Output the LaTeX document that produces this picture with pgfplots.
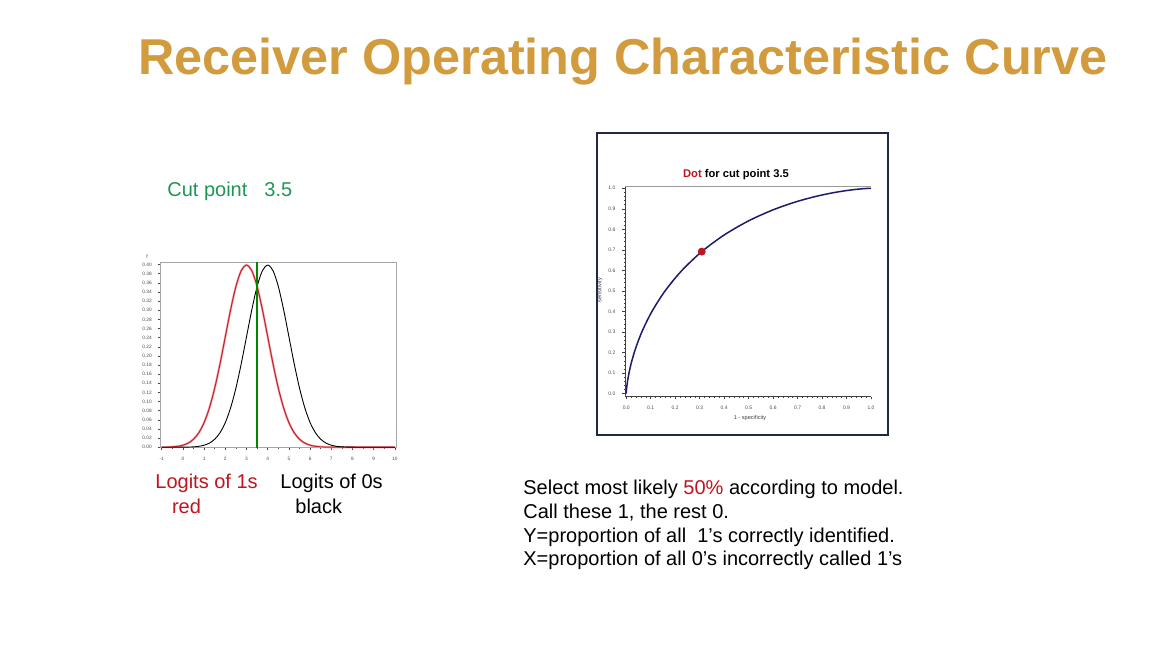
\documentclass[border=0pt]{standalone}
\usepackage{fontspec}
\setmainfont{Liberation Sans}
\usepackage{pgfplots}
\pgfplotsset{compat=1.18}

\definecolor{titlegold}{RGB}{210,155,62}
\definecolor{cutgreen}{RGB}{30,150,85}
\definecolor{txtred}{RGB}{192,20,30}
\definecolor{curvered}{RGB}{200,30,40}
\definecolor{curvepink}{RGB}{240,170,175}
\definecolor{cutline}{RGB}{0,135,0}
\definecolor{boxnavy}{RGB}{30,42,68}
\definecolor{rocnavy}{RGB}{28,28,107}

\begin{document}
\begin{tikzpicture}
% page: 1152 x 648 px at 0.5pt per px
\path[fill=white] (0,0) rectangle (576pt,-324pt);

\node[anchor=base, inner sep=0, text=titlegold,
      font=\fontsize{25.2}{30}\selectfont\bfseries] at (311.5pt,-37pt)
  {Receiver Operating Characteristic Curve};

\node[anchor=base west, inner sep=0, text=cutgreen, font=\fontsize{10}{12}\selectfont]
  at (83.5pt,-98pt) {Cut point\hspace{8.5pt}3.5};

% left: the two logit densities
\begin{axis}[
  at={(80pt,-223.85pt)}, anchor=south west,
  scale only axis, width=118pt, height=92.7pt,
  xmin=-1.08, xmax=10.05, ymin=-0.001, ymax=0.405,
  axis line style={gray!70, line width=0.3pt},
  xtick={-1,0,...,10}, minor x tick num=1,
  ytick={0,0.02,0.04,0.06,0.08,0.10,0.12,0.14,0.16,0.18,0.20,0.22,0.24,0.26,0.28,0.30,0.32,0.34,0.36,0.38,0.40},
  tick align=outside, xtick pos=bottom, ytick pos=left,
  major tick length=1.2pt, minor tick length=0.7pt,
  tick style={black!70, line width=0.25pt},
  /pgf/number format/assume math mode=true,
  yticklabel style={font=\fontsize{2.4}{2.7}\selectfont, text=black!70,
    /pgf/number format/fixed, /pgf/number format/fixed zerofill,
    /pgf/number format/precision=2, xshift=0.6pt},
  xticklabel style={font=\fontsize{2.4}{2.7}\selectfont, text=black!70},
  clip=false,
]
\addplot[draw=curvepink, line width=1.1pt, smooth] coordinates {
  (-1,0.00013) (-0.75,0.00035) (-0.5,0.00087) (-0.25,0.00203) (0,0.00443)
  (0.25,0.00909) (0.5,0.01753) (0.75,0.03174) (1,0.05399) (1.25,0.08628)
  (1.5,0.12952) (1.75,0.18265) (2,0.24197) (2.25,0.30114) (2.5,0.35207)
  (2.75,0.38667) (3,0.39894) (3.25,0.38667) (3.5,0.35207) (3.75,0.30114)
  (4,0.24197) (4.25,0.18265) (4.5,0.12952) (4.75,0.08628) (5,0.05399)
  (5.25,0.03174) (5.5,0.01753) (5.75,0.00909) (6,0.00443) (6.25,0.00203)
  (6.5,0.00087) (6.75,0.00035) (7,0.00013) (7.5,0.00002) (8,0) (10,0)
};
\addplot[draw=curvered, line width=0.5pt, smooth] coordinates {
  (-1,0.00013) (-0.75,0.00035) (-0.5,0.00087) (-0.25,0.00203) (0,0.00443)
  (0.25,0.00909) (0.5,0.01753) (0.75,0.03174) (1,0.05399) (1.25,0.08628)
  (1.5,0.12952) (1.75,0.18265) (2,0.24197) (2.25,0.30114) (2.5,0.35207)
  (2.75,0.38667) (3,0.39894) (3.25,0.38667) (3.5,0.35207) (3.75,0.30114)
  (4,0.24197) (4.25,0.18265) (4.5,0.12952) (4.75,0.08628) (5,0.05399)
  (5.25,0.03174) (5.5,0.01753) (5.75,0.00909) (6,0.00443) (6.25,0.00203)
  (6.5,0.00087) (6.75,0.00035) (7,0.00013) (7.5,0.00002) (8,0) (10,0)
};
\addplot[draw=black, line width=0.45pt, smooth] coordinates {
  (-1,0) (0,0.00013) (0.25,0.00035) (0.5,0.00087) (0.75,0.00203) (1,0.00443)
  (1.25,0.00909) (1.5,0.01753) (1.75,0.03174) (2,0.05399) (2.25,0.08628)
  (2.5,0.12952) (2.75,0.18265) (3,0.24197) (3.25,0.30114) (3.5,0.35207)
  (3.75,0.38667) (4,0.39894) (4.25,0.38667) (4.5,0.35207) (4.75,0.30114)
  (5,0.24197) (5.25,0.18265) (5.5,0.12952) (5.75,0.08628) (6,0.05399)
  (6.25,0.03174) (6.5,0.01753) (6.75,0.00909) (7,0.00443) (7.25,0.00203)
  (7.5,0.00087) (7.75,0.00035) (8,0.00013) (8.5,0.00002) (9,0) (10,0)
};
\addplot[draw=cutline, line width=0.9pt] coordinates {(3.5,-0.001) (3.5,0.405)};
\node[font=\fontsize{2.6}{3}\selectfont, text=black!70] at (rel axis cs:-0.055,1.03) {f};
\end{axis}

\node[anchor=base west, inner sep=0, text=txtred, font=\fontsize{10}{12}\selectfont]
  at (77.5pt,-244pt) {Logits of 1s};
\node[anchor=base west, inner sep=0, text=txtred, font=\fontsize{10}{12}\selectfont]
  at (85.8pt,-256.6pt) {red};
\node[anchor=base west, inner sep=0, text=black, font=\fontsize{10}{12}\selectfont]
  at (140pt,-244pt) {Logits of 0s};
\node[anchor=base west, inner sep=0, text=black, font=\fontsize{10}{12}\selectfont]
  at (147.5pt,-256.6pt) {black};

% right: ROC panel
\draw[boxnavy, line width=1pt] (298.5pt,-66.5pt) rectangle (444pt,-217.5pt);

\begin{axis}[
  at={(312.5pt,-198.35pt)}, anchor=south west,
  scale only axis, width=123pt, height=105.35pt,
  xmin=-0.005, xmax=1.0, ymin=-0.015, ymax=1.011,
  axis x line*=bottom, axis y line*=left,
  axis line style={-, black!75, line width=0.3pt},
  xtick={0,0.1,0.2,0.3,0.4,0.5,0.6,0.7,0.8,0.9,1},
  ytick={0,0.1,0.2,0.3,0.4,0.5,0.6,0.7,0.8,0.9,1},
  minor x tick num=4, minor y tick num=4,
  tick align=outside,
  major tick length=1.3pt, minor tick length=0.7pt,
  tick style={black!75, line width=0.25pt},
  /pgf/number format/assume math mode=true,
  ticklabel style={font=\fontsize{2.5}{2.9}\selectfont, text=black!70,
    /pgf/number format/fixed, /pgf/number format/fixed zerofill,
    /pgf/number format/precision=1},
  clip=false,
]
\draw[gray!80, line width=0.4pt] (rel axis cs:0,1) -- (rel axis cs:1,1);
\addplot[draw=rocnavy, line width=0.75pt, smooth] coordinates {
  (0,0) (0.00003,0.00135) (0.00023,0.00621) (0.00135,0.02275) (0.00298,0.04006)
  (0.00621,0.06681) (0.01222,0.10565) (0.02275,0.15866) (0.04006,0.22663)
  (0.06681,0.30854) (0.10565,0.40129) (0.15866,0.5) (0.22663,0.59871)
  (0.30854,0.69146) (0.40129,0.77337) (0.5,0.84134) (0.59871,0.89435)
  (0.69146,0.93319) (0.77337,0.95994) (0.84134,0.97725) (0.89435,0.98778)
  (0.93319,0.99379) (0.95994,0.99702) (0.97725,0.99865) (0.99379,0.99977)
  (1,1)
};
\addplot[only marks, mark=*, mark size=1.75pt, color=txtred] coordinates {(0.3085,0.6915)};
\end{axis}

\node[anchor=base, inner sep=0, font=\fontsize{5.6}{6.5}\selectfont\bfseries]
  at (368pt,-88.6pt) {\textcolor{txtred}{Dot} for cut point 3.5};
\node[rotate=90, inner sep=0, text=black!75, font=\fontsize{2.8}{3.2}\selectfont]
  at (300pt,-145pt) {sensitivity};
\node[inner sep=0, text=black!75, font=\fontsize{2.8}{3.2}\selectfont]
  at (375pt,-209pt) {1 - specificity};

% right: explanatory text
\node[anchor=base west, inner sep=0, font=\fontsize{10}{12}\selectfont]
  at (261.5pt,-247.3pt) {Select most likely \textcolor{txtred}{50\%} according to model.};
\node[anchor=base west, inner sep=0, font=\fontsize{10}{12}\selectfont]
  at (261.5pt,-259.2pt) {Call these 1, the rest 0.};
\node[anchor=base west, inner sep=0, font=\fontsize{10}{12}\selectfont]
  at (261.5pt,-271pt) {Y=proportion of all\ \ 1’s correctly identified.};
\node[anchor=base west, inner sep=0, font=\fontsize{10}{12}\selectfont]
  at (261.5pt,-282.7pt) {X=proportion of all 0’s incorrectly called 1’s};
\end{tikzpicture}
\end{document}
